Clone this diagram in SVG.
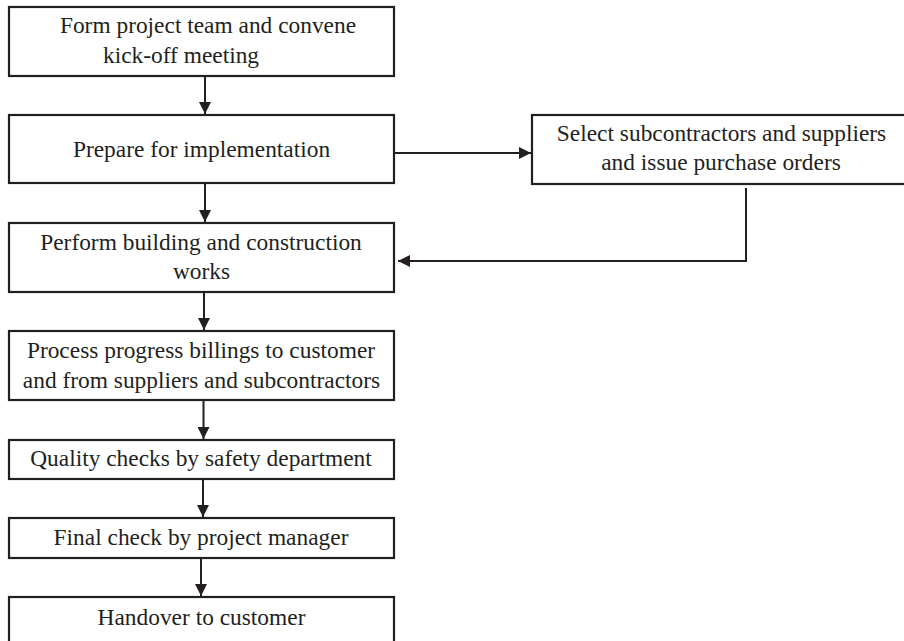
<svg xmlns="http://www.w3.org/2000/svg" width="904" height="641" viewBox="0 0 904 641">
<defs>
<style>
.box{fill:#fff;stroke:#231f20;stroke-width:2.2}
.t{font-family:"Liberation Serif","Times New Roman",serif;font-size:23.4px;fill:#231f20;text-anchor:middle}
.c{fill:none;stroke:#231f20;stroke-width:2}
</style>
<marker id="ah" markerUnits="userSpaceOnUse" markerWidth="13" markerHeight="12" refX="12" refY="6" orient="auto">
<path d="M0,0 L12,6 L0,12 z" fill="#231f20"/>
</marker>
</defs>
<rect width="904" height="641" fill="#fff"/>
<g id="connectors">
<line class="c" x1="205" y1="77" x2="205" y2="114" marker-end="url(#ah)"/>
<line class="c" x1="205" y1="184" x2="205" y2="222" marker-end="url(#ah)"/>
<line class="c" x1="204" y1="293" x2="204" y2="330" marker-end="url(#ah)"/>
<line class="c" x1="203.5" y1="401" x2="203.5" y2="439" marker-end="url(#ah)"/>
<line class="c" x1="203" y1="480" x2="203" y2="517" marker-end="url(#ah)"/>
<line class="c" x1="201" y1="559" x2="201" y2="596" marker-end="url(#ah)"/>
<line class="c" x1="395" y1="153" x2="531" y2="153" marker-end="url(#ah)"/>
<polyline class="c" points="746,188 746,261 398,261" marker-end="url(#ah)"/>
</g>
<g id="n1">
<rect class="box" x="9" y="7" width="385" height="69"/>
<text class="t" x="208" y="33">Form project team and convene</text>
<text class="t" x="181" y="63">kick-off meeting</text>
</g>
<g id="n2">
<rect class="box" x="9" y="115" width="385" height="68"/>
<text class="t" x="201.5" y="157">Prepare for implementation</text>
</g>
<g id="n3">
<rect class="box" x="532" y="115" width="380" height="69"/>
<text class="t" x="721.5" y="141">Select subcontractors and suppliers</text>
<text class="t" x="721" y="170">and issue purchase orders</text>
</g>
<g id="n4">
<rect class="box" x="9" y="223" width="385" height="69"/>
<text class="t" x="201" y="250">Perform building and construction</text>
<text class="t" x="201.5" y="279">works</text>
</g>
<g id="n5">
<rect class="box" x="9" y="331" width="385" height="69"/>
<text class="t" x="201" y="358">Process progress billings to customer</text>
<text class="t" x="201.5" y="388">and from suppliers and subcontractors</text>
</g>
<g id="n6">
<rect class="box" x="9" y="440" width="385" height="39"/>
<text class="t" x="201" y="466">Quality checks by safety department</text>
</g>
<g id="n7">
<rect class="box" x="9" y="518" width="385" height="40"/>
<text class="t" x="201" y="545">Final check by project manager</text>
</g>
<g id="n8">
<rect class="box" x="9" y="597" width="385" height="60"/>
<text class="t" x="201.5" y="625">Handover to customer</text>
</g>
</svg>
